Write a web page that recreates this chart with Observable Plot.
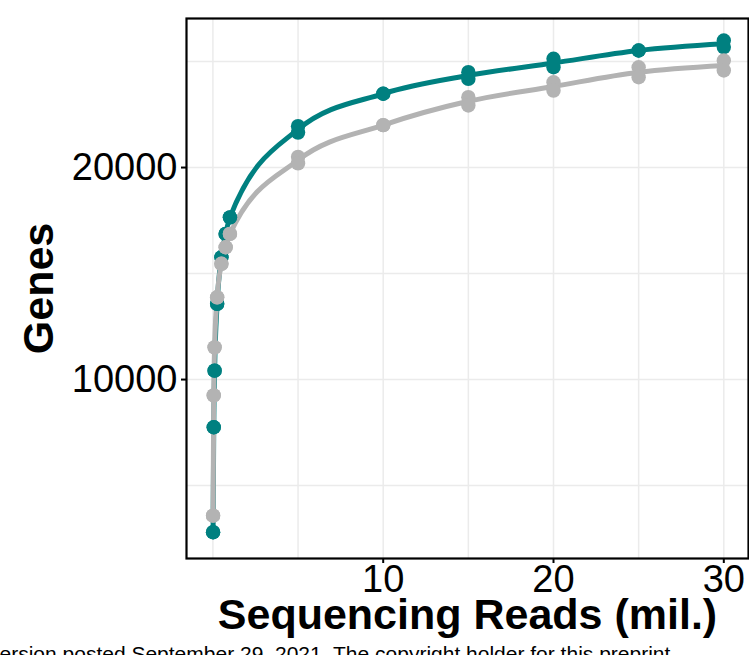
<!DOCTYPE html>
<html>
<head>
<meta charset="utf-8">
<script src="https://cdn.jsdelivr.net/npm/d3@7"></script>
<script src="https://cdn.jsdelivr.net/npm/@observablehq/plot@0.6"></script>
<style>
  html, body { margin: 0; padding: 0; background: #fff; }
  #wrap { position: relative; width: 749px; height: 655px; overflow: hidden; font-family: "Liberation Sans", Arial, sans-serif; }
  #wm { position: absolute; left: -11px; top: 642px; font-size: 21px; line-height: 24px; white-space: nowrap; color: #000; z-index: 0; }
  #chart { position: absolute; left: 0; top: 0; z-index: 1; }
  #chart svg { background: transparent !important; }
</style>
</head>
<body>
<div id="wrap">
  <div id="wm">version posted September 29, 2021. The copyright holder for this preprint</div>
  <div id="chart"></div>
</div>
<script>
// Sequencing depth (millions of reads)
const reads = [0.01, 0.05, 0.1, 0.25, 0.5, 0.75, 1, 5, 10, 15, 20, 25, 30];
// Teal group, two replicates
const tealRep1 = [2800, 7750, 10420, 13570, 15770, 16870, 17650, 21950, 23480, 24500, 25130, 25520, 25990];
const tealRep2 = [2800, 7750, 10420, 13570, 15770, 16870, 17650, 21650, 23480, 24180, 24730, 25520, 25680];
// Gray group, two replicates
const grayRep1 = [3580, 9250, 11520, 13880, 15460, 16240, 16870, 20500, 22000, 23320, 24020, 24730, 25050];
const grayRep2 = [3580, 9250, 11520, 13880, 15460, 16240, 16870, 20200, 22000, 22930, 23630, 24260, 24580];

const xTicks = [10, 20, 30];
const xGrid = [0, 5, 10, 15, 20, 25, 30];
const yTicks = [10000, 20000];
const yGrid = [5000, 10000, 15000, 20000, 25000];

const TEAL = "#008080";
const GRAY = "#b3b3b3";

const pts = (reps, group) => reps.flatMap(r => reads.map((x, i) => ({reads: x, genes: r[i], group})));
const tealPts = pts([tealRep1, tealRep2], "teal");
const grayPts = pts([grayRep1, grayRep2], "gray");
const meanLine = (a, b, group) => reads.map((x, i) => ({reads: x, genes: (a[i] + b[i]) / 2, group}));
const tealLine = meanLine(tealRep1, tealRep2, "teal");
const grayLine = meanLine(grayRep1, grayRep2, "gray");

const plot = Plot.plot({
  width: 749,
  height: 655,
  marginLeft: 186,
  marginRight: 1,
  marginTop: 18,
  marginBottom: 97,
  style: {fontFamily: "Liberation Sans, Arial, sans-serif", background: "transparent", color: "#000"},
  x: {domain: [-1.55, 31.45]},
  y: {domain: [1560, 27030]},
  marks: [
    Plot.gridX(xGrid, {stroke: "#ebebeb", strokeOpacity: 1, strokeWidth: 1.5}),
    Plot.gridY(yGrid, {stroke: "#ebebeb", strokeOpacity: 1, strokeWidth: 1.5}),
    Plot.line(tealLine, {x: "reads", y: "genes", stroke: TEAL, strokeWidth: 5, curve: "monotone-x"}),
    Plot.line(grayLine, {x: "reads", y: "genes", stroke: GRAY, strokeWidth: 5, curve: "monotone-x"}),
    Plot.dot(tealPts, {x: "reads", y: "genes", r: 7.2, fill: TEAL}),
    Plot.dot(grayPts, {x: "reads", y: "genes", r: 7.2, fill: GRAY}),
    Plot.frame({stroke: "#000", strokeWidth: 2.2}),
    Plot.axisX(xTicks, {tickSize: 5, tickPadding: 2, fontSize: 38, label: null, strokeWidth: 2, tickFormat: d3.format("d")}),
    Plot.axisY(yTicks, {tickSize: 5, tickPadding: 4, fontSize: 38, label: null, strokeWidth: 2, tickFormat: d3.format("d")}),
    Plot.text(["Sequencing Reads (mil.)"], {frameAnchor: "bottom", dy: 57, fontSize: 43, fontWeight: "bold", text: d => d, lineAnchor: "middle"}),
    Plot.text(["Genes"], {frameAnchor: "left", dx: -147, rotate: -90, fontSize: 43, fontWeight: "bold", text: d => d, lineAnchor: "middle", textAnchor: "middle"})
  ]
});
document.getElementById("chart").appendChild(plot);
</script>
</body>
</html>
